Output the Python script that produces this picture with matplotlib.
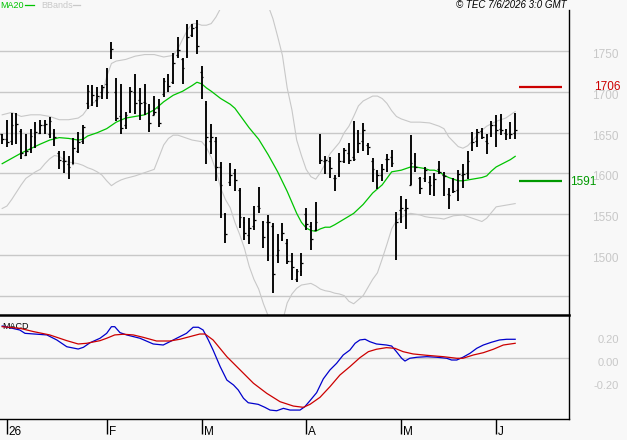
import matplotlib
matplotlib.use('Agg')
import matplotlib.pyplot as plt
from matplotlib.transforms import offset_copy
from matplotlib.lines import Line2D
import numpy as np

plt.rcParams['font.family'] = ['Liberation Sans', 'DejaVu Sans']

# ---------------- data (bar index 0 = 31 Dec, trading days) ----------------
opens = [1648, 1642, 1640, 1660, 1652, 1623, 1630, 1645, 1650, 1660,
         1648, 1650, 1625, 1615, 1612, 1612, 1628, 1640, 1686, 1700,
         1690, 1700, 1710, 1750, 1700, 1670, 1660, 1677, 1700, 1690,
         1688, 1680, 1672, 1680, 1698, 1710, 1712, 1745, 1740, 1745,
         1770, 1780, 1725, 1685, 1640, 1640, 1608, 1550, 1590, 1600,
         1580, 1540, 1525, 1535, 1560, 1540, 1540, 1535, 1500, 1520,
         1515, 1492, 1470, 1480, 1550, 1535, 1530, 1615, 1615, 1615,
         1595, 1600, 1615, 1625, 1620, 1630, 1640, 1635, 1615, 1600,
         1598, 1618, 1620, 1547, 1555, 1555, 1586, 1615, 1594, 1595,
         1590, 1590, 1605, 1598, 1575, 1580, 1580, 1598, 1600, 1630,
         1640, 1652, 1640, 1650, 1660, 1655, 1650, 1648, 1650]
highs = [1649, 1666, 1674, 1674, 1655, 1649, 1654, 1663, 1666, 1666,
         1669, 1654, 1628, 1628, 1621, 1643, 1651, 1660, 1708, 1708,
         1706, 1708, 1729, 1762, 1717, 1710, 1675, 1706, 1722, 1705,
         1710, 1685, 1695, 1692, 1717, 1722, 1748, 1767, 1742, 1783,
         1784, 1789, 1732, 1689, 1661, 1645, 1614, 1552, 1613, 1605,
         1582, 1547, 1545, 1560, 1583, 1542, 1549, 1539, 1526, 1539,
         1519, 1502, 1483, 1502, 1557, 1541, 1565, 1649, 1621, 1620,
         1598, 1625, 1631, 1637, 1664, 1653, 1662, 1637, 1619, 1604,
         1611, 1624, 1629, 1553, 1572, 1569, 1647, 1625, 1596, 1608,
         1597, 1600, 1615, 1602, 1582, 1595, 1604, 1611, 1627, 1651,
         1654, 1656, 1649, 1664, 1672, 1673, 1655, 1663, 1674]
lows = [1636, 1632, 1635, 1636, 1618, 1621, 1625, 1631, 1648, 1649,
        1644, 1634, 1606, 1600, 1593, 1611, 1625, 1636, 1679, 1683,
        1682, 1692, 1692, 1741, 1664, 1648, 1655, 1674, 1673, 1666,
        1672, 1651, 1672, 1657, 1694, 1700, 1710, 1742, 1710, 1742,
        1768, 1747, 1691, 1611, 1624, 1591, 1545, 1515, 1584, 1579,
        1533, 1518, 1513, 1531, 1551, 1509, 1493, 1453, 1490, 1517,
        1489, 1469, 1467, 1474, 1531, 1506, 1529, 1611, 1599, 1594,
        1579, 1596, 1613, 1612, 1615, 1625, 1628, 1623, 1589, 1581,
        1591, 1602, 1608, 1494, 1539, 1532, 1586, 1602, 1575, 1590,
        1574, 1572, 1599, 1572, 1556, 1576, 1566, 1582, 1593, 1628,
        1633, 1642, 1624, 1645, 1632, 1647, 1641, 1642, 1642]
closes = [1642, 1639, 1659, 1661, 1625, 1628, 1646, 1651, 1659, 1661,
          1664, 1645, 1616, 1615, 1608, 1631, 1639, 1657, 1701, 1696,
          1695, 1706, 1700, 1753, 1668, 1656, 1672, 1701, 1686, 1687,
          1686, 1662, 1676, 1662, 1713, 1707, 1736, 1752, 1730, 1768,
          1778, 1756, 1719, 1645, 1645, 1608, 1586, 1526, 1598, 1592,
          1547, 1527, 1533, 1543, 1557, 1522, 1540, 1477, 1506, 1527,
          1492, 1485, 1480, 1490, 1538, 1519, 1540, 1616, 1617, 1607,
          1595, 1615, 1629, 1617, 1618, 1637, 1653, 1632, 1606, 1598,
          1606, 1618, 1613, 1540, 1557, 1557, 1613, 1608, 1582, 1604,
          1586, 1593, 1602, 1597, 1574, 1578, 1599, 1599, 1615, 1639,
          1651, 1645, 1637, 1660, 1653, 1653, 1649, 1649, 1653]

ma_idx = [0, 4, 8, 10, 12, 14, 16, 17, 18, 20,
          22, 24, 26, 28, 30, 32, 34, 36, 38, 40,
          41, 42, 43, 44, 46, 48, 49, 50, 51, 52,
          53, 54, 56, 58, 60, 62, 63, 64, 65, 66,
          67, 68, 69, 70, 72, 74, 76, 78, 80, 81,
          82, 83, 84, 85, 86, 87, 88, 89, 90, 91,
          92, 93, 94, 95, 96, 97, 98, 99, 100, 101,
          102, 103, 104, 105, 106, 107, 108]
ma_val = [1612, 1625, 1636, 1641, 1644, 1643, 1641, 1642, 1646, 1650,
          1655, 1663, 1668, 1670, 1672, 1678, 1688, 1696, 1701, 1708,
          1712, 1710, 1705, 1701, 1692, 1685, 1680, 1672, 1664, 1656,
          1649, 1642, 1623, 1602, 1578, 1551, 1540, 1533, 1530, 1529,
          1532, 1534, 1534, 1537, 1544, 1551, 1562, 1576, 1586, 1594,
          1602, 1603, 1604, 1606, 1608, 1608, 1607, 1606, 1604, 1604,
          1602, 1598, 1595, 1593, 1591, 1591, 1592, 1593, 1594, 1595,
          1597, 1603, 1608, 1611, 1614, 1617, 1621]

ub_idx = [0, 2, 4, 6, 8, 10, 12, 14, 16, 17,
          18, 19, 20, 21, 22, 23, 24, 26, 28, 30,
          32, 34, 36, 37, 38, 39, 40, 41, 42, 43,
          44, 45, 46, 48, 50, 52, 54, 56, 57, 58,
          59, 60, 61, 62, 63, 64, 65, 66, 67, 68,
          69, 70, 71, 72, 73, 74, 75, 76, 77, 78,
          79, 80, 81, 82, 83, 84, 86, 88, 90, 92,
          93, 94, 95, 96, 97, 98, 99, 100, 101, 102,
          104, 106, 107, 108]
ub_val = [1672, 1675, 1670, 1672, 1672, 1670, 1666, 1666, 1668, 1672,
          1680, 1686, 1690, 1696, 1719, 1735, 1738, 1740, 1744, 1746,
          1746, 1743, 1745, 1753, 1765, 1776, 1784, 1784, 1782, 1782,
          1784, 1792, 1803, 1820, 1830, 1832, 1825, 1806, 1790, 1768,
          1745, 1705, 1678, 1641, 1622, 1605, 1596, 1593, 1601, 1612,
          1624, 1631, 1638, 1650, 1658, 1670, 1683, 1689, 1692, 1695,
          1695, 1692, 1686, 1677, 1670, 1667, 1663, 1663, 1662, 1658,
          1655, 1645, 1639, 1633, 1631, 1634, 1640, 1647, 1653, 1658,
          1664, 1668, 1672, 1676]

lb_idx = [0, 1, 2, 3, 4, 5, 6, 7, 8, 9, 10, 11, 12, 13, 14, 15, 16, 17,
          18, 19, 20, 21, 22, 23, 24, 25, 26, 28, 30, 32,
          33, 34, 35, 36, 37, 38, 39, 40, 41, 42, 43, 44, 45, 46, 47, 48,
          49, 50, 51, 52, 53, 54, 55, 56, 57, 58, 59, 60, 61, 62, 63, 64,
          65, 66, 67, 68, 69, 70, 71, 72, 73, 74, 75, 76, 77, 78, 79, 80,
          81, 82, 83, 84, 85, 86, 87, 88, 89, 90,
          92, 93, 95, 97, 99, 101, 102, 103, 104, 106, 108]
lb_val = [1557, 1560, 1568, 1577, 1586, 1594, 1598, 1602, 1605, 1612, 1618, 1622, 1621, 1617, 1614, 1613, 1612, 1610,
          1607, 1605, 1602, 1598, 1591, 1585, 1589, 1592, 1594, 1597, 1601, 1605,
          1620, 1635, 1643, 1647, 1647, 1645, 1643, 1641, 1640, 1639, 1632, 1620, 1604, 1582, 1568, 1558,
          1540, 1525, 1508, 1486, 1470, 1458, 1440, 1425, 1410, 1404, 1418, 1441, 1452, 1459, 1463, 1464,
          1465, 1462, 1458, 1456, 1455, 1453, 1452, 1450, 1443, 1440, 1445, 1450, 1460, 1470, 1478, 1495,
          1513, 1532, 1542, 1546, 1549, 1551, 1550, 1549, 1547, 1546,
          1545, 1544, 1548, 1549, 1545, 1541, 1545, 1552, 1559, 1561, 1563]

macd_idx = [0, 3.7, 4.8, 9.4, 11.5, 13.6, 16, 17.1, 18.5, 20.6,
            22, 23, 23.7, 24.8, 26.2, 29, 31.8, 33.9, 35.3, 37.4,
            38.8, 40.2, 41.3, 42.3, 43.4, 44.4, 45.9, 47.3, 48.7, 49.7,
            50.8, 51.8, 53.9, 55.3, 56.4, 57.8, 59.2, 60.6, 62.7, 63.7,
            64.8, 66.2, 67.6, 69, 70.4, 71.8, 73.2, 74.3, 75.3, 76.4,
            77.4, 78.8, 80.9, 82, 83, 84.1, 84.8, 85.8, 87.3, 89.4,
            91.5, 93.6, 94.6, 95.7, 97, 98.5, 99.9, 101.3, 103, 104.7,
            106.2, 108]
macd_val = [0.282, 0.247, 0.218, 0.204, 0.160, 0.101, 0.081, 0.096, 0.136, 0.175,
            0.218, 0.276, 0.276, 0.224, 0.204, 0.175, 0.125, 0.116, 0.145, 0.189,
            0.218, 0.271, 0.271, 0.247, 0.160, 0.072, -0.073, -0.190, -0.233, -0.277,
            -0.349, -0.388, -0.402, -0.428, -0.452, -0.458, -0.437, -0.452, -0.452, -0.423,
            -0.370, -0.300, -0.180, -0.102, -0.044, 0.029, 0.072, 0.131, 0.160, 0.166,
            0.145, 0.125, 0.116, 0.107, 0.058, 0.000, -0.024, 0.000, 0.009, 0.014,
            0.009, 0.000, -0.015, -0.015, 0.009, 0.044, 0.087, 0.116, 0.140, 0.160,
            0.166, 0.166]

sig_idx = [0, 3.7, 6.6, 10, 13.6, 16, 17.8, 20.6, 22, 23.7,
           25.5, 27.6, 29.7, 32.5, 35.3, 37.4, 39.5, 41.6, 42.7, 44.4,
           47.3, 50.1, 52.9, 55.7, 58.5, 61.3, 63.4, 64.8, 66.9, 69,
           71.1, 73.2, 75.3, 77.1, 78.8, 80.9, 82.7, 84.4, 86.5, 89.4,
           92.9, 95.7, 97, 99.2, 101.3, 103.4, 105.5, 108]
sig_val = [0.276, 0.262, 0.233, 0.204, 0.154, 0.125, 0.131, 0.154, 0.175, 0.204,
           0.210, 0.204, 0.183, 0.151, 0.151, 0.166, 0.189, 0.212, 0.212, 0.160,
           0.014, -0.102, -0.218, -0.306, -0.379, -0.417, -0.428, -0.402, -0.341, -0.248,
           -0.146, -0.073, 0.005, 0.058, 0.079, 0.093, 0.087, 0.058, 0.038, 0.026,
           0.014, 0.000, 0.000, 0.029, 0.049, 0.079, 0.116, 0.131]

month_idx = [1, 22, 42, 64, 84, 104]
month_labels = ['26', 'F', 'M', 'A', 'M', 'J']

price_ticks = [1500, 1550, 1600, 1650, 1700, 1750]
price_grid = [1450, 1500, 1550, 1600, 1650, 1700, 1750]
macd_ticks = [0.2, 0.0, -0.2]
macd_tick_labels = ['0.20', '0.00', '-0.20']

resistance = 1706
support = 1591
level_span = (108.8, 117.9)

# ---------------- figure ----------------
W, H, DPI = 627, 440, 100
BG = '#f8f8f8'
GRID = '#c8c8c8'
fig = plt.figure(figsize=(W / DPI, H / DPI), dpi=DPI)
fig.patch.set_facecolor(BG)


def px_rect(l, t, r, b):
    return [l / W, 1 - b / H, (r - l) / W, (b - t) / H]


ax = fig.add_axes(px_rect(0, 10, 569, 315))
axm = fig.add_axes(px_rect(0, 315, 569, 419), sharex=ax)
for a in (ax, axm):
    a.set_facecolor(BG)
    a.tick_params(left=False, right=False, labelleft=False, labelright=False)

ax.set_xlim(-0.46, 119.33)
ax.set_ylim(1426.2, 1800.7)
axm.set_ylim(-0.530, 0.378)

for g in price_grid:
    ax.axhline(g, color=GRID, lw=1.0, zorder=1)
axm.axhline(0, color=GRID, lw=1.0, zorder=1)

# Bollinger bands and MA20
ax.plot(ub_idx, ub_val, color='#c8c8c8', lw=0.8, zorder=2)
ax.plot(lb_idx, lb_val, color='#c8c8c8', lw=0.8, zorder=2)
ax.plot(ma_idx, ma_val, color='#00c400', lw=0.9, zorder=3)

# OHLC bars
idx = np.arange(len(closes))
ax.vlines(idx, lows, highs, color='black', lw=1.35, zorder=4)
ax.hlines(opens, idx - 0.38, idx, color='black', lw=0.9, zorder=4)
ax.hlines(closes, idx, idx + 0.38, color='black', lw=0.9, zorder=4)

# support / resistance markers
ax.hlines([resistance], level_span[0], level_span[1], color='#cc0000', lw=1.6, zorder=4)
ax.hlines([support], level_span[0], level_span[1], color='#009900', lw=1.6, zorder=4)

# spines
for s in ('top', 'left', 'bottom'):
    ax.spines[s].set_visible(False)
ax.spines['right'].set_color('black')
ax.spines['right'].set_linewidth(1.0)
axm.spines['left'].set_visible(False)
axm.spines['top'].set_linewidth(1.8)
axm.spines['right'].set_linewidth(1.0)
axm.spines['bottom'].set_linewidth(1.0)
ax.tick_params(axis='x', bottom=False, labelbottom=False)

# right-side price labels
tr_price = offset_copy(ax.get_yaxis_transform(), fig=fig, x=50, y=-4, units='dots')
for v in price_ticks:
    ax.text(1.0, v, str(v), transform=tr_price, ha='right', va='center',
            color=GRID, fontsize=8.5, clip_on=False)
tr_res = offset_copy(ax.get_yaxis_transform(), fig=fig, x=25, y=0, units='dots')
ax.text(1.0, resistance, str(resistance), transform=tr_res, ha='left', va='center',
        color='#cc0000', fontsize=8.5, clip_on=False)
tr_sup = offset_copy(ax.get_yaxis_transform(), fig=fig, x=1, y=-1, units='dots')
ax.text(1.0, support, str(support), transform=tr_sup, ha='left', va='center',
        color='#009900', fontsize=8.5, clip_on=False)

# MACD
axm.plot(macd_idx, macd_val, color='#0000cc', lw=0.9, zorder=3)
axm.plot(sig_idx, sig_val, color='#cc0000', lw=0.9, zorder=3)
axm.text(0.004, 0.885, 'MACD', transform=axm.transAxes, ha='left', va='center',
         fontsize=6.5, color='black', zorder=2)
tr_m = offset_copy(axm.get_yaxis_transform(), fig=fig, x=50, y=-4.5, units='dots')
for v, lab in zip(macd_ticks, macd_tick_labels):
    axm.text(1.0, v, lab, transform=tr_m, ha='right', va='center',
             color=GRID, fontsize=8, clip_on=False)

# month ticks and labels
axm.set_xticks(month_idx)
axm.tick_params(axis='x', direction='out', length=10.5, width=1.0, color='black',
                labelbottom=False)
tr_x = offset_copy(axm.get_xaxis_transform(), fig=fig, x=2, y=-13, units='dots')
for i, lab in zip(month_idx, month_labels):
    axm.text(i, 0, lab, transform=tr_x, ha='left', va='center', fontsize=8.5,
             color='black', clip_on=False)

# header legend
fig.text(0 / W, 1 - 5 / H, 'MA20', color='#00c400', fontsize=6.5, va='center', ha='left')
fig.add_artist(Line2D([25 / W, 34 / W], [1 - 5 / H] * 2, transform=fig.transFigure,
                      color='#00c400', lw=0.9))
fig.text(41 / W, 1 - 5 / H, 'BBands', color='#c8c8c8', fontsize=6.5, va='center', ha='left')
fig.add_artist(Line2D([73 / W, 80 / W], [1 - 5 / H] * 2, transform=fig.transFigure,
                      color='#c8c8c8', lw=0.9))
fig.text(456 / W, 1 - 5 / H, '\u00a9 TEC 7/6/2026 3:0 GMT', color='black', fontsize=7,
         style='italic', va='center', ha='left')

fig.savefig('out.png', dpi=DPI, facecolor=BG)
